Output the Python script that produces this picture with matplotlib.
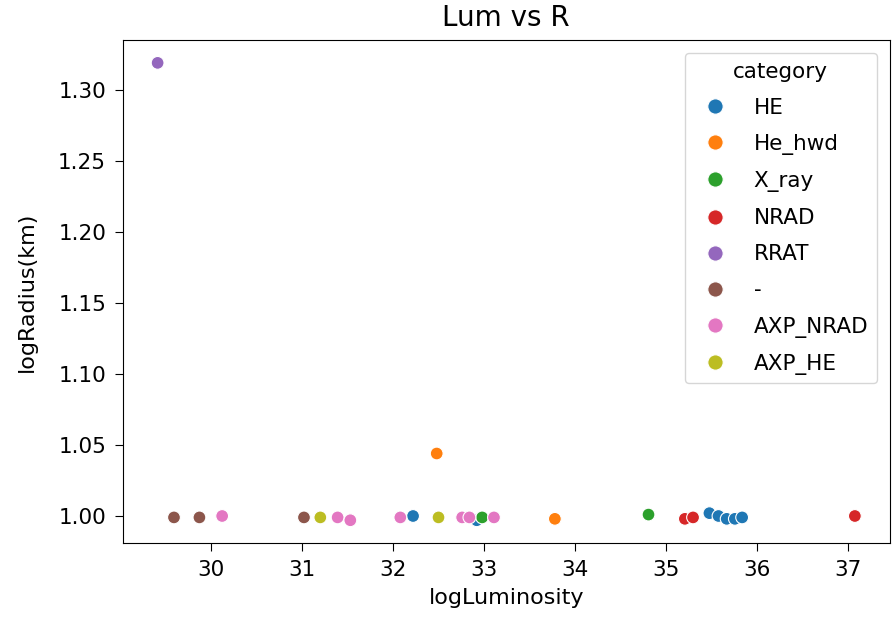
import matplotlib
matplotlib.use("Agg")
import matplotlib.pyplot as plt
import seaborn as sns
import pandas as pd

categories = ["HE", "He_hwd", "X_ray", "NRAD", "RRAT", "-", "AXP_NRAD", "AXP_HE"]
colors = ["#1f77b4", "#ff7f0e", "#2ca02c", "#d62728", "#9467bd", "#8c564b", "#e377c2", "#bcbd22"]

he_lum = [32.22, 32.92, 35.48, 35.58, 35.67, 35.76, 35.84]
he_rad = [1.000, 0.997, 1.002, 1.000, 0.998, 0.998, 0.999]
hwd_lum = [32.48, 33.78]
hwd_rad = [1.044, 0.998]
xray_lum = [32.98, 34.81]
xray_rad = [0.999, 1.001]
nrad_lum = [35.21, 35.30, 37.08]
nrad_rad = [0.998, 0.999, 1.000]
rrat_lum = [29.41]
rrat_rad = [1.319]
dash_lum = [29.59, 29.87, 31.02]
dash_rad = [0.999, 0.999, 0.999]
axpn_lum = [30.12, 31.39, 31.53, 32.08, 32.76, 32.84, 33.11]
axpn_rad = [1.000, 0.999, 0.997, 0.999, 0.999, 0.999, 0.999]
axph_lum = [31.20, 32.50]
axph_rad = [0.999, 0.999]

groups = [
    ("HE", he_lum, he_rad),
    ("He_hwd", hwd_lum, hwd_rad),
    ("X_ray", xray_lum, xray_rad),
    ("NRAD", nrad_lum, nrad_rad),
    ("RRAT", rrat_lum, rrat_rad),
    ("-", dash_lum, dash_rad),
    ("AXP_NRAD", axpn_lum, axpn_rad),
    ("AXP_HE", axph_lum, axph_rad),
]
rows = []
for cat, xs, ys in groups:
    for x, y in zip(xs, ys):
        rows.append({"logLuminosity": x, "logRadius(km)": y, "category": cat})
df = pd.DataFrame(rows)

fig = plt.figure(figsize=(8.96, 6.25), dpi=100)
ax = fig.add_axes([0.137, 0.131, 0.856, 0.805])
sns.scatterplot(data=df, x="logLuminosity", y="logRadius(km)", hue="category",
                hue_order=categories, palette=dict(zip(categories, colors)),
                s=85, edgecolor="white", linewidth=0.8, ax=ax)
ax.set_title("Lum vs R", fontsize=20, pad=10)
ax.set_xlabel("logLuminosity", fontsize=16, labelpad=6)
ax.set_ylabel("logRadius(km)", fontsize=16, labelpad=15)
ax.tick_params(labelsize=15.5, length=6, pad=6)
ax.set_xticks([30, 31, 32, 33, 34, 35, 36, 37])
ax.set_yticks([1.00, 1.05, 1.10, 1.15, 1.20, 1.25, 1.30])
ax.set_yticklabels(["1.00", "1.05", "1.10", "1.15", "1.20", "1.25", "1.30"])
leg = ax.legend(title="category", loc="upper right", fontsize=15.5, title_fontsize=15.5,
                markerscale=1.2, borderaxespad=0.6, labelspacing=0.75)
fig.savefig("out.png", dpi=100)
